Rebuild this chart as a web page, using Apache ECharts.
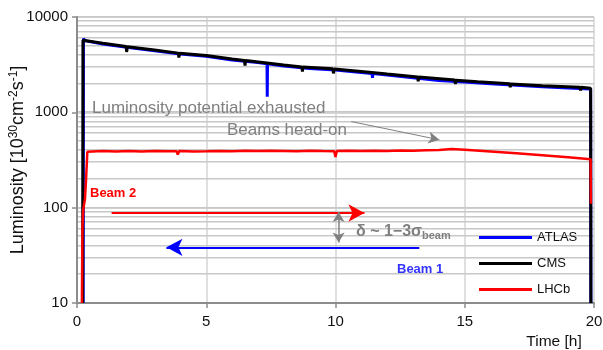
<!DOCTYPE html>
<html><head><meta charset="utf-8">
<script src="https://cdn.jsdelivr.net/npm/echarts@6/dist/echarts.min.js"></script>
<style>html,body{margin:0;padding:0;background:#fff}#c{width:603px;height:350px}</style>
</head><body><div id="c"></div>
<script>
// ---- data (hours, luminosity in 1e30 cm^-2 s^-1) ----
const xTicks = [0, 5, 10, 15, 20];
const yTicks = [10, 100, 1000, 10000];
const seriesNames = ['ATLAS', 'CMS', 'LHCb'];

const tAtlas = [0.24, 0.25, 0.3, 1.0, 2.0, 3.0, 4.0, 5.0, 6.0, 7.0, 7.35, 7.36, 7.37, 8.0, 9.0, 10.0, 11.0, 11.41, 11.43, 11.45, 12.0, 13.0, 14.0, 15.0, 16.0, 17.0, 18.0, 19.0, 19.87, 19.88];
const vAtlas = [10, 5950, 5650, 5200, 4800, 4420, 4100, 3880, 3530, 3330, 3230, 1460, 3225, 3070, 2880, 2780, 2620, 2560, 2300, 2555, 2470, 2310, 2160, 2080, 2000, 1920, 1860, 1800, 1760, 10];

const tCms = [0.22, 0.23, 0.3, 1.0, 1.9, 1.92, 1.95, 3.0, 3.92, 3.94, 3.97, 5.0, 6.0, 6.48, 6.5, 6.52, 7.35, 8.0, 8.7, 8.72, 8.74, 9.9, 9.92, 9.95, 11.0, 12.0, 13.18, 13.2, 13.22, 14.62, 14.64, 14.66, 15.5, 16.74, 16.76, 16.78, 18.0, 19.46, 19.48, 19.5, 19.87, 19.88];
const vCms = [10, 5700, 5750, 5300, 4900, 4300, 4880, 4500, 4180, 3750, 4170, 3950, 3620, 3500, 3100, 3490, 3290, 3130, 2990, 2680, 2985, 2860, 2560, 2855, 2680, 2520, 2350, 2110, 2345, 2180, 1980, 2175, 2090, 1990, 1830, 1985, 1900, 1830, 1690, 1828, 1790, 10];

const tLhcb = [0.19, 0.21, 0.24, 0.31, 0.35, 0.4, 1.0, 1.5, 2.0, 2.5, 3.0, 3.5, 3.85, 3.9, 3.95, 4.5, 5.0, 5.5, 6.0, 6.5, 7.0, 7.5, 8.0, 8.5, 9.0, 9.5, 9.95, 10.0, 10.05, 10.5, 11.0, 11.5, 12.0, 12.5, 13.0, 13.5, 14.0, 14.5, 15.0, 16.0, 17.0, 18.0, 19.0, 19.87, 19.88];
const vLhcb = [10, 60, 95, 124, 196, 385, 392, 388, 394, 389, 392, 390, 391, 360, 392, 389, 391, 394, 390, 395, 392, 396, 393, 390, 396, 392, 390, 340, 392, 395, 392, 396, 394, 398, 396, 400, 402, 412, 405, 388, 372, 355, 338, 322, 110];

// annotation arrows, in data coordinates: [t0, v0, t1, v1]
const beam2Arrow = [1.34, 88, 11.12, 88];
const beam1Arrow = [13.24, 38.4, 3.46, 38.4];
const deltaArrow = [10.12, 90, 10.12, 43];
const headOnArrow = [10.61, 800, 14.02, 515];

const FONT = 'Liberation Sans, Arial, sans-serif';
const GRID_COLOR = '#d4d4d4';
const HGRID_COLOR = '#c8c8c8';
const pairs = (t, v) => t.map((x, i) => [x, v[i]]);

// log grid values (1..9 per decade)
const gridVals = [];
[10, 100, 1000].forEach(d => { for (let k = 1; k <= 9; k++) gridVals.push(k * d); });
gridVals.push(10000);

const chart = echarts.init(document.getElementById('c'), null, { renderer: 'canvas' });
const arrowLine = (a, color, width, sym, size) => ({
  symbol: sym, symbolSize: size, silent: true, animation: false,
  label: { show: false },
  lineStyle: { color: color, width: width, type: 'solid', opacity: 1 },
  emphasis: { disabled: true },
  data: [[{ coord: [a[0], a[1]] }, { coord: [a[2], a[3]] }]]
});

const textGraphics = [
  { type: 'text', x: 92, y: 108, style: { text: 'Luminosity potential exhausted', fontSize: 17, fontFamily: FONT, fill: '#808080', textVerticalAlign: 'middle' }, z: 10 },
  { type: 'text', x: 347, y: 130, style: { text: 'Beams head-on', fontSize: 17, fontFamily: FONT, fill: '#808080', textAlign: 'right', textVerticalAlign: 'middle' }, z: 10 },
  { type: 'text', x: 90, y: 193, style: { text: 'Beam 2', fontSize: 13, fontWeight: 'bold', fontFamily: FONT, fill: '#ff0000', textVerticalAlign: 'middle' }, z: 10 },
  { type: 'text', x: 397, y: 269, style: { text: 'Beam 1', fontSize: 13, fontWeight: 'bold', fontFamily: FONT, fill: '#3333ff', textVerticalAlign: 'middle' }, z: 10 },
  { type: 'text', x: 356, y: 223, style: {
      text: '{a|δ ~ 1−3σ}{b|beam}',
      rich: {
        a: { fontSize: 16, fontWeight: 'bold', fontFamily: FONT, fill: '#808080', color: '#808080' },
        b: { fontSize: 11, fontWeight: 'bold', fontFamily: FONT, fill: '#808080', color: '#808080', padding: [7, 0, 0, 0] }
      } }, z: 10 },
  { type: 'text', x: 554, y: 342, style: { text: 'Time [h]', fontSize: 15.5, fontFamily: FONT, fill: '#111', textAlign: 'center', textVerticalAlign: 'middle' }, z: 10 }
];

chart.setOption({
  animation: false,
  grid: { left: 77, right: 9, top: 17, bottom: 47, outerBoundsMode: 'none' },
  xAxis: {
    type: 'value', min: xTicks[0], max: xTicks[xTicks.length - 1], interval: 5,
    axisLine: { lineStyle: { color: '#8c8c8c', width: 2 } },
    axisTick: { show: true, length: 5, lineStyle: { color: '#8c8c8c', width: 1.5 } },
    axisLabel: { fontSize: 15, color: '#111', fontFamily: FONT, margin: 11 },
    splitLine: { show: true, lineStyle: { color: GRID_COLOR, width: 1.5 } }
  },
  yAxis: {
    type: 'log', logBase: 10, min: yTicks[0], max: yTicks[yTicks.length - 1],
    name: '{a|Luminosity [10}{s|30}{a|cm}{s|-2}{a|s}{s|-1}{a|]}',
    nameLocation: 'middle', nameRotate: 90, nameGap: 49, nameMoveOverlap: false,
    nameTextStyle: {
      rich: {
        a: { fontSize: 18, color: '#111', fontFamily: FONT },
        s: { fontSize: 12, color: '#111', fontFamily: FONT, padding: [0, 0, 8, 0] }
      }
    },
    axisLine: { show: true, lineStyle: { color: '#8c8c8c', width: 2 } },
    axisTick: { show: true, length: 5, lineStyle: { color: '#8c8c8c', width: 1.5 } },
    axisLabel: { fontSize: 15, color: '#111', fontFamily: FONT, margin: 9, formatter: v => String(v) },
    splitLine: { show: true, lineStyle: { color: HGRID_COLOR, width: 1.5 } }
  },
  legend: {
    data: seriesNames, orient: 'vertical', left: 479, top: 229, padding: 0,
    icon: 'rect', itemWidth: 53, itemHeight: 3, itemGap: 9, z: 20,
    textStyle: { fontSize: 13, color: '#111', fontFamily: FONT, lineHeight: 17 }
  },
  series: [
    { name: 'ATLAS', type: 'line', data: pairs(tAtlas, vAtlas), showSymbol: false, symbol: 'none', color: '#0000ff', lineStyle: { width: 3, color: '#0000ff' }, z: 3 },
    { name: 'CMS', type: 'line', data: pairs(tCms, vCms), showSymbol: false, symbol: 'none', color: '#000000', lineStyle: { width: 3, color: '#000000' }, z: 4 },
    { name: 'LHCb', type: 'line', data: pairs(tLhcb, vLhcb), showSymbol: false, symbol: 'none', color: '#ff0000', lineStyle: { width: 2.5, color: '#ff0000' }, z: 5 },
    { name: 'a1', type: 'line', data: [], z: 6, color: '#ff0000', markLine: arrowLine(beam2Arrow, '#ff0000', 2, ['none', 'arrow'], [13, 16]) },
    { name: 'a2', type: 'line', data: [], z: 6, color: '#0000ff', markLine: arrowLine(beam1Arrow, '#0000ff', 2, ['none', 'arrow'], [13, 16]) },
    { name: 'a3', type: 'line', data: [], z: 6, color: '#808080', markLine: arrowLine(deltaArrow, '#808080', 1.5, ['arrow', 'arrow'], [9, 10]) },
    { name: 'a4', type: 'line', data: [], z: 6, color: '#808080', markLine: arrowLine(headOnArrow, '#808080', 1, ['none', 'arrow'], [9, 11]) }
  ],
  graphic: textGraphics
});

// log-grid lines, positioned through the chart's own scales (grid finder)
const gridLines = [];
gridVals.forEach(v => {
  const p0 = chart.convertToPixel({ gridIndex: 0 }, [xTicks[0], v]);
  const p1 = chart.convertToPixel({ gridIndex: 0 }, [xTicks[xTicks.length - 1], v]);
  if (p0 && p1 && isFinite(p0[1]) && isFinite(p0[0]) && isFinite(p1[0])) {
    const y = Math.round(p0[1]);
    gridLines.push({ type: 'rect', silent: true, z: 0,
      shape: { x: p0[0], y: y - 1, width: p1[0] - p0[0], height: 1.5 },
      style: { fill: HGRID_COLOR } });
  }
});
chart.setOption({ graphic: { elements: gridLines.concat(textGraphics) } }, { replaceMerge: ['graphic'] });
</script></body></html>
